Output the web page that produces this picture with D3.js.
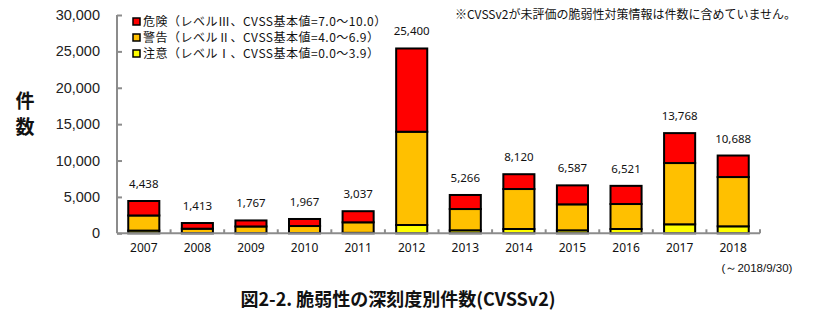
<!DOCTYPE html>
<html lang="ja">
<head>
<meta charset="utf-8">
<script src="https://cdn.jsdelivr.net/npm/d3@7/dist/d3.min.js"></script>
<style>
  html, body { margin: 0; padding: 0; background: #fff; }
  svg { display: block; }
</style>
</head>
<body>
<svg id="chart" width="831" height="327"></svg>
<script>
// Yearly counts of vulnerability countermeasure entries by CVSSv2 severity
const years = ["2007","2008","2009","2010","2011","2012","2013","2014","2015","2016","2017","2018"];
const caution = [370, 30, 40, 40, 60, 1140, 410, 590, 410, 590, 1236, 960];      // 注意 (0.0–3.9)
const warning = [2080, 600, 900, 960, 1450, 12816, 2925, 5495, 3570, 3434, 8420, 6772]; // 警告 (4.0–6.9)
const danger  = [1988, 783, 827, 967, 1527, 11444, 1931, 2035, 2607, 2497, 4112, 2956]; // 危険 (7.0–10.0)
const totals  = [4438, 1413, 1767, 1967, 3037, 25400, 5266, 8120, 6587, 6521, 13768, 10688];
const yTicks  = [0, 5000, 10000, 15000, 20000, 25000, 30000];

const seriesNames = ["注意（レベルⅠ、CVSS基本値=0.0～3.9）",
                     "警告（レベルⅡ、CVSS基本値=4.0～6.9）",
                     "危険（レベルⅢ、CVSS基本値=7.0～10.0）"];
const seriesKeys = ["caution", "warning", "danger"];
const colors = { caution: "#ffff00", warning: "#ffc000", danger: "#ff0000" };

const rows = years.map((yr, i) => ({ year: yr, caution: caution[i], warning: warning[i], danger: danger[i], total: totals[i] }));

const svg = d3.select("#chart");
const plotLeft = 117, plotRight = 760, plotTop = 15, plotBottom = 233.3;

const x = d3.scaleBand().domain(years).range([plotLeft, plotRight]).paddingInner(0.42).paddingOuter(0.21);
const y = d3.scaleLinear().domain([0, 30000]).range([plotBottom, plotTop]);

const stacked = d3.stack().keys(seriesKeys)(rows);

const axisColor = "#8c8c8c";
const numFont = "'Noto Sans', 'DejaVu Sans', sans-serif";
const jpFont = "'Noto Sans CJK JP', sans-serif";

// Stacked bars
svg.append("g").selectAll("g").data(stacked).join("g")
  .attr("fill", d => colors[d.key])
  .selectAll("rect").data(d => d).join("rect")
  .attr("x", d => x(d.data.year))
  .attr("width", x.bandwidth())
  .attr("y", d => y(d[1]))
  .attr("height", d => y(d[0]) - y(d[1]))
  .attr("stroke", "#000")
  .attr("stroke-width", 2);

// Y axis with inward ticks
const yAxis = d3.axisRight(y).tickValues(yTicks).tickSize(5).tickFormat("");
const gy = svg.append("g").attr("transform", `translate(${plotLeft},0)`).call(yAxis);
gy.select(".domain").attr("stroke", axisColor).attr("stroke-width", 2).attr("d", `M0,${plotTop}V${plotBottom}`);
gy.selectAll(".tick line").attr("stroke", axisColor).attr("stroke-width", 2);

svg.append("g").selectAll("text").data(yTicks).join("text")
  .attr("x", 100).attr("y", d => y(d)).attr("dy", "0.35em")
  .attr("text-anchor", "end")
  .attr("font-family", "'Liberation Sans', Arial, sans-serif")
  .attr("font-size", 14.5).attr("fill", "#222")
  .text(d => d3.format(",")(d));

// X axis with inward ticks at the category boundaries
const gx = svg.append("g").attr("transform", `translate(0,${plotBottom})`);
gx.append("line").attr("x1", plotLeft).attr("x2", plotRight).attr("y1", 0).attr("y2", 0)
  .attr("stroke", axisColor).attr("stroke-width", 2);
const step = x.step();
const boundaries = years.map((yr, i) => plotLeft + step * (i + 1));
gx.selectAll("line.tk").data(boundaries).join("line").attr("class", "tk")
  .attr("x1", d => d).attr("x2", d => d)
  .attr("y1", 0).attr("y2", -4)
  .attr("stroke", axisColor).attr("stroke-width", 2);

gx.selectAll("text").data(years).join("text")
  .attr("x", d => x(d) + x.bandwidth() / 2).attr("y", 19)
  .attr("text-anchor", "middle")
  .attr("font-family", numFont).attr("font-size", 12).attr("fill", "#111")
  .text(d => d);

svg.append("text").attr("x", 757).attr("y", 272).attr("text-anchor", "middle")
  .attr("font-family", "'Liberation Sans Narrow', 'Liberation Sans', sans-serif")
  .attr("font-size", 11.5).attr("fill", "#111")
  .text("(～2018/9/30)");

// Totals above each bar
svg.append("g").selectAll("text").data(rows).join("text")
  .attr("x", d => x(d.year) + x.bandwidth() / 2)
  .attr("y", d => y(d.total) - 13)
  .attr("text-anchor", "middle")
  .attr("font-family", numFont).attr("font-size", 11.5).attr("fill", "#111")
  .text(d => d3.format(",")(d.total));

// Y axis title, stacked vertically
svg.append("g").selectAll("text").data(["件", "数"]).join("text")
  .attr("x", 25).attr("y", (d, i) => 101 + i * 26).attr("dy", "0.36em")
  .attr("text-anchor", "middle")
  .attr("font-family", jpFont).attr("font-weight", "bold")
  .attr("font-size", 19).attr("fill", "#111")
  .text(d => d);

// Legend (highest severity on top)
const legendKeys = seriesKeys.slice().reverse();
const legendNames = seriesNames.slice().reverse();
const lg = svg.append("g").attr("transform", "translate(133,0)");
legendKeys.forEach((k, i) => {
  const cy = 21.5 + i * 16;
  lg.append("rect").attr("x", 0).attr("y", cy - 3.5).attr("width", 7).attr("height", 7)
    .attr("fill", colors[k]).attr("stroke", "#000").attr("stroke-width", 1.5);
  lg.append("text").attr("x", 10).attr("y", cy).attr("dy", "0.36em")
    .attr("font-family", jpFont).attr("font-size", 12).attr("letter-spacing", 0.5).attr("fill", "#111")
    .text(legendNames[i]);
});

// Note
svg.append("text").attr("x", 455).attr("y", 15).attr("dy", "0.36em")
  .attr("font-family", jpFont).attr("font-size", 12).attr("fill", "#111")
  .text("※CVSSv2が未評価の脆弱性対策情報は件数に含めていません。");

// Figure title
svg.append("text").attr("x", 398).attr("y", 300).attr("dy", "0.36em")
  .attr("text-anchor", "middle")
  .attr("font-family", jpFont).attr("font-weight", "bold")
  .attr("font-size", 18).attr("fill", "#111")
  .text("図2-2. 脆弱性の深刻度別件数(CVSSv2)");
</script>
</body>
</html>
